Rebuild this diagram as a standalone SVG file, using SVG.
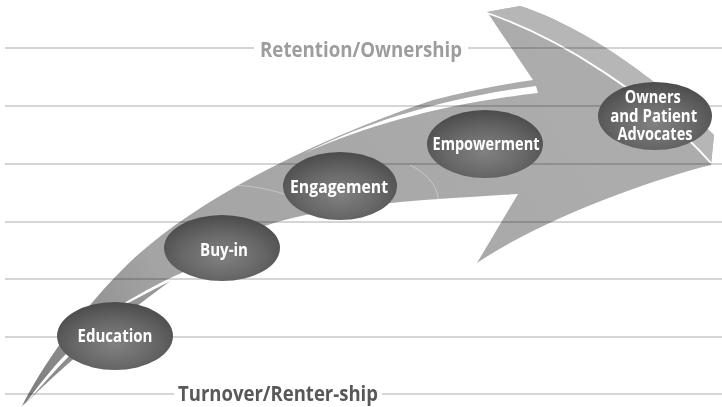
<svg xmlns="http://www.w3.org/2000/svg" width="722" height="407" viewBox="0 0 722 407">
  <defs>
    <style>
      .grid { stroke: #d5d5d5; stroke-width: 1.8; fill: none; }
      .stage-text { fill: #ffffff; font-family: "Open Sans", "Liberation Sans", sans-serif; font-weight: 700; font-size: 18.5px; text-anchor: middle; }
      .owners-text { font-size: 17.5px; }
      .axis-text { font-family: "Open Sans", "Liberation Sans", sans-serif; font-weight: 700; font-size: 20.5px; text-anchor: middle; }
      .hl { fill: #ffffff; }
      .arc { fill: none; stroke: #ffffff; stroke-opacity: 0.35; stroke-width: 1; }
    </style>
    <radialGradient id="stageFill" cx="50%" cy="62%" r="62%">
      <stop offset="0" stop-color="#818181"/>
      <stop offset="0.55" stop-color="#676767"/>
      <stop offset="1" stop-color="#4b4b4b"/>
    </radialGradient>
    <linearGradient id="bodyFill" gradientUnits="userSpaceOnUse" x1="20" y1="405" x2="560" y2="90">
      <stop offset="0" stop-color="#7c7c7c"/>
      <stop offset="0.3" stop-color="#a4a4a4"/>
      <stop offset="1" stop-color="#acacac"/>
    </linearGradient>
  </defs>

  <rect width="722" height="407" fill="#ffffff"/>

  <!-- horizontal guide lines -->
  <g id="grid">
    <line class="grid" x1="5" y1="48" x2="254" y2="48"/>
    <line class="grid" x1="468" y1="48" x2="722" y2="48"/>
    <line class="grid" x1="5" y1="106" x2="722" y2="106"/>
    <line class="grid" x1="5" y1="164" x2="722" y2="164"/>
    <line class="grid" x1="5" y1="222" x2="722" y2="222"/>
    <line class="grid" x1="5" y1="279" x2="722" y2="279"/>
    <line class="grid" x1="5" y1="337" x2="722" y2="337"/>
    <line class="grid" x1="5" y1="394" x2="174" y2="394"/>
    <line class="grid" x1="382" y1="394" x2="722" y2="394"/>
  </g>

  <!-- sweeping arrow -->
  <g id="arrow" style="mix-blend-mode: multiply">
    <path fill="url(#bodyFill)" d="M22,406 C40,370 80,310 130,262 C190,205 300,145 433,100 Q490,86 533,80 L487,12 L520,6 C595,30 675,95 714,135 L711,165 C650,180 540,220 477,263 L518,194 C420,200 310,205 250,232 C180,265 80,350 22,406 Z"/>
    <!-- lighter upper band of the head -->
    <path fill="#b6b6b6" d="M487,12 L520,6 C595,30 675,95 714,135 L711,164 C650,95 560,38 487,12 Z"/>
    <!-- darker strand along the lower tail -->
    <path fill="#8f8f8f" opacity="0.55" d="M23,406 C80,350 180,265 250,232 C215,246 200,258 185,272 C150,290 110,312 70,352 C50,372 35,390 23,406 Z"/>
    <!-- white highlights -->
    <path class="hl" d="M26,403 C38,386 52,368 68,352 L70,355 C55,370 40,388 26,403 Z"/>
    <path class="hl" d="M108,313 C135,296 160,282 186,271 L185,275 C160,285 135,300 108,313 Z"/>
    <path class="hl" d="M305,153 C370,120 450,97 536,86 L538,93 C450,103 370,124 305,153 Z"/>
    <path fill="none" stroke="#ffffff" stroke-width="1.8" d="M487,13 C560,38 650,95 711,163"/>
    <!-- faint arcs -->
    <path class="arc" d="M150,200 C200,178 260,182 300,200"/>
    <path class="arc" d="M410,165 C430,175 440,190 438,205"/>
    <path class="arc" d="M250,300 C260,270 250,240 240,225"/>
  </g>

  <!-- stages -->
  <g id="node-education">
    <ellipse cx="115" cy="336" rx="58" ry="34" fill="url(#stageFill)"/>
    <text class="stage-text" x="115" y="342" textLength="75" lengthAdjust="spacingAndGlyphs">Education</text>
  </g>
  <g id="node-buy-in">
    <ellipse cx="222" cy="248" rx="58" ry="33" fill="url(#stageFill)"/>
    <text class="stage-text" x="224" y="256" textLength="48" lengthAdjust="spacingAndGlyphs">Buy-in</text>
  </g>
  <g id="node-engagement">
    <ellipse cx="340" cy="186" rx="57" ry="34" fill="url(#stageFill)"/>
    <text class="stage-text" x="339" y="193" textLength="98" lengthAdjust="spacingAndGlyphs">Engagement</text>
  </g>
  <g id="node-empowerment">
    <ellipse cx="485" cy="144" rx="58" ry="34" fill="url(#stageFill)"/>
    <text class="stage-text" x="486" y="150" textLength="107" lengthAdjust="spacingAndGlyphs">Empowerment</text>
  </g>
  <g id="node-owners">
    <ellipse cx="655" cy="116" rx="57" ry="34" fill="url(#stageFill)"/>
    <text class="stage-text owners-text">
      <tspan x="655" y="103" textLength="56" lengthAdjust="spacingAndGlyphs">Owners</tspan>
      <tspan x="656" y="121.5" textLength="87" lengthAdjust="spacingAndGlyphs">and Patient</tspan>
      <tspan x="655" y="140" textLength="75" lengthAdjust="spacingAndGlyphs">Advocates</tspan>
    </text>
  </g>

  <!-- axis labels -->
  <g id="label-retention">
    <text class="axis-text" x="361" y="57" fill="#9d9d9f" textLength="202" lengthAdjust="spacingAndGlyphs">Retention/Ownership</text>
  </g>
  <g id="label-turnover">
    <text class="axis-text" x="278" y="401" fill="#58585a" textLength="200" lengthAdjust="spacingAndGlyphs">Turnover/Renter-ship</text>
  </g>
</svg>
